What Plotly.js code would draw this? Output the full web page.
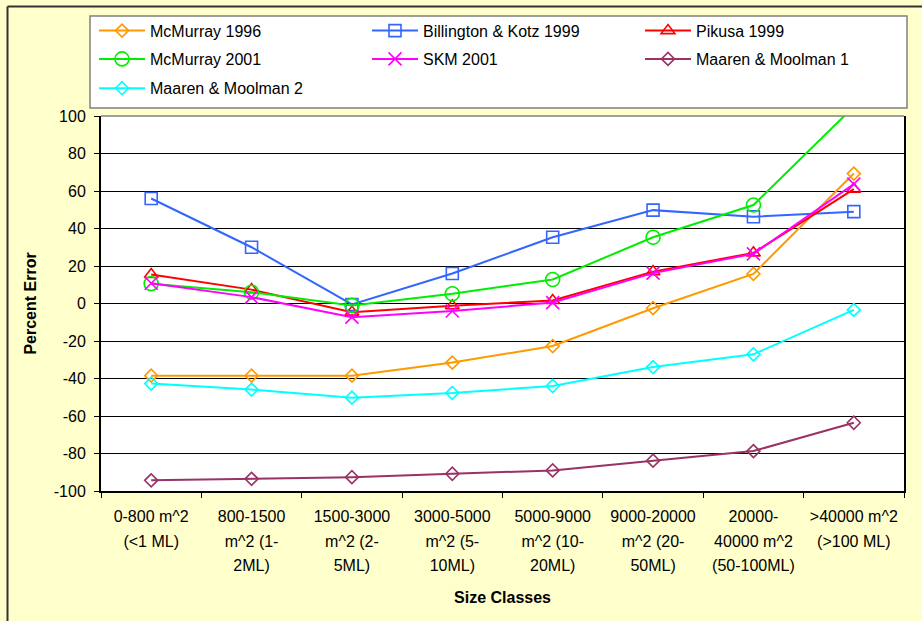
<!DOCTYPE html>
<html>
<head>
<meta charset="utf-8">
<script src="https://cdn.plot.ly/plotly-3.0.1.min.js"></script>
<style>html,body{margin:0;padding:0;background:#FFFFCC;}#chart{width:922px;height:621px;}</style>
</head>
<body>
<div id="chart"></div>
<script>
// ---- data ----
var categories = ["c1","c2","c3","c4","c5","c6","c7","c8"];
var tickLabels = [
  "0-800 m^2<br>(<1 ML)",
  "800-1500<br>m^2 (1-<br>2ML)",
  "1500-3000<br>m^2 (2-<br>5ML)",
  "3000-5000<br>m^2 (5-<br>10ML)",
  "5000-9000<br>m^2 (10-<br>20ML)",
  "9000-20000<br>m^2 (20-<br>50ML)",
  "20000-<br>40000 m^2<br>(50-100ML)",
  ">40000 m^2<br>(>100 ML)"
];
var seriesNames = ["McMurray 1996","Billington & Kotz 1999","Pikusa 1999","McMurray 2001","SKM 2001","Maaren & Moolman 1","Maaren & Moolman 2"];
var mcMurray1996   = [-38.5, -38.5, -38.5, -31.5, -22.7, -2.5, 15.8, 69.3];
var billington1999 = [56, 30, -0.5, 16, 35.3, 49.8, 46.3, 49];
var pikusa1999     = [15.5, 7.4, -4.6, -1.2, 1.6, 17, 27, 61];
var mcMurray2001   = [10.6, 6, -1, 5.2, 12.8, 35.3, 52.5, 105];
var skm2001        = [10.8, 3.4, -7.3, -4, 0.5, 16.2, 26.5, 63.7];
var maaren1        = [-94.3, -93.5, -92.6, -90.8, -89, -83.8, -78.7, -63.6];
var maaren2        = [-42.7, -45.9, -50.2, -47.7, -44, -33.9, -27.1, -3.4];
var yTicks = [-100,-80,-60,-40,-20,0,20,40,60,80,100];

// ---- helpers ----
function escPart(p){ return p.replace(/&/g,"&amp;").replace(/</g,"&lt;").replace(/>/g,"&gt;"); }
function esc(s){ return s.split("<br>").map(escPart).join("<br>"); }
// each line rendered at 16px inside a 19px text so that line spacing is wider
function tickLabel(s){ return s.split("<br>").map(function(p){ return '<span style="font-size:16px">' + escPart(p) + '</span>'; }).join("<br>"); }
var FONT = "Liberation Sans, Arial, sans-serif";
var W = 922, H = 621, L = 101, R = 18, T = 116, B = 130;
var PW = W - L - R, PH = H - T - B;
function px(x){ return (x - L) / PW; }
function py(y){ return (H - B - y) / PH; }

var styles = [
  {data: mcMurray1996,   color: "#FF9900", symbol: "diamond-open",     size: 10, legend: "legend",  lw: 212},
  {data: billington1999, color: "#3366FF", symbol: "square-open",      size: 12, legend: "legend",  lw: 212},
  {data: pikusa1999,     color: "#FF0000", symbol: "triangle-up-open", size: 12, legend: "legend",  lw: null},
  {data: mcMurray2001,   color: "#00EE00", symbol: "circle-open",      size: 14, legend: "legend2", lw: 212},
  {data: skm2001,        color: "#FF00FF", symbol: "x-thin-open",      size: 13, legend: "legend2", lw: 212},
  {data: maaren1,        color: "#993366", symbol: "diamond-open",     size: 10, legend: "legend2", lw: null},
  {data: maaren2,        color: "#00FFFF", symbol: "diamond-open",     size: 10, legend: "legend3", lw: null}
];

var traces = styles.map(function(s, i){
  var t = {
    type: "scatter", mode: "lines+markers",
    x: categories, y: s.data, name: esc(seriesNames[i]),
    line: {color: s.color, width: 2},
    marker: {symbol: s.symbol, size: s.size, color: s.color, line: {color: s.color, width: 1.6}},
    legend: s.legend, cliponaxis: true
  };
  if (s.lw) t.legendwidth = s.lw;
  return t;
});

function legendAt(rowY){
  return {
    xref: "container", yref: "container",
    x: 94 / W, y: 1 - rowY / H, xanchor: "left", yanchor: "middle",
    orientation: "h", bgcolor: "rgba(0,0,0,0)", borderwidth: 0, itemwidth: 46,
    font: {family: FONT, size: 16, color: "#000"}, traceorder: "normal"
  };
}

var layout = {
  width: W, height: H,
  margin: {l: L, r: R, t: T, b: B, pad: 0, autoexpand: false},
  paper_bgcolor: "#FFFFCC", plot_bgcolor: "#FFFFFF",
  font: {family: FONT, size: 16, color: "#000"},
  showlegend: true,
  legend: legendAt(30.7),
  legend2: legendAt(59),
  legend3: legendAt(88.3),
  xaxis: {
    type: "category", range: [-0.5, 7.5],
    tickmode: "array", tickvals: categories, ticktext: tickLabels.map(tickLabel),
    tickson: "boundaries", ticks: "outside", ticklen: 5, tickcolor: "#000", tickwidth: 1,
    ticklabelstandoff: 6,
    showgrid: false, showline: true, linecolor: "#000", linewidth: 2,
    tickfont: {family: FONT, size: 19, color: "#000"},
    title: {text: "<b>Size Classes</b>", font: {family: FONT, size: 16, color: "#000"}, standoff: 19},
    fixedrange: true
  },
  yaxis: {
    range: [-100, 100], tickmode: "array", tickvals: yTicks, ticktext: yTicks.map(String),
    ticks: "outside", ticklen: 5, tickcolor: "#000", tickwidth: 1,
    ticklabelstandoff: 5,
    showgrid: true, gridcolor: "#000", gridwidth: 1, zeroline: false,
    showline: true, mirror: true, linecolor: "#000", linewidth: 2,
    tickfont: {family: FONT, size: 16, color: "#000"},
    title: {text: "<b>Percent Error</b>", font: {family: FONT, size: 16, color: "#000"}, standoff: 13},
    fixedrange: true
  },
  shapes: [
    {type: "line", xref: "paper", yref: "paper", x0: 0, x1: 1, y0: 1, y1: 1, line: {color: "#808080", width: 1.5}, layer: "above"},
    {type: "rect", xref: "paper", yref: "paper", x0: px(90), x1: px(907), y0: py(108), y1: py(16),
     fillcolor: "#FFFFFF", line: {color: "#808080", width: 1.5}, layer: "above"},
    {type: "line", xref: "paper", yref: "paper", x0: px(7.5), x1: px(930), y0: py(6.5), y1: py(6.5), line: {color: "#333333", width: 2}, layer: "above"},
    {type: "line", xref: "paper", yref: "paper", x0: px(7.5), x1: px(7.5), y0: py(6.5), y1: py(630), line: {color: "#333333", width: 2}, layer: "above"}
  ]
};

Plotly.newPlot("chart", traces, layout, {displayModeBar: false, staticPlot: true});
</script>
</body>
</html>
